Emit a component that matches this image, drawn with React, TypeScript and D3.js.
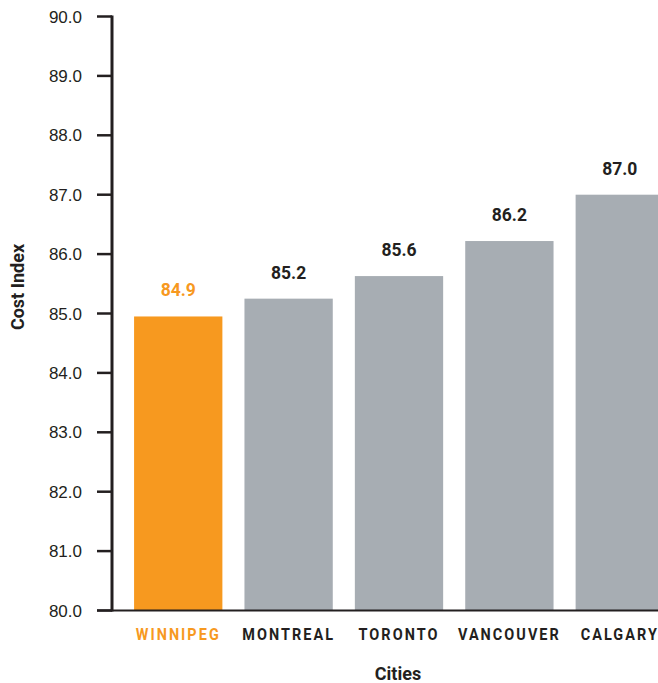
import React from "react";
import * as d3 from "d3";

const cities = ["WINNIPEG", "MONTREAL", "TORONTO", "VANCOUVER", "CALGARY"];
const costIndex = [84.95, 85.25, 85.63, 86.22, 87.0];
const valueLabels = ["84.9", "85.2", "85.6", "86.2", "87.0"];
const yTicks = [80, 81, 82, 83, 84, 85, 86, 87, 88, 89, 90];
const highlight = "WINNIPEG";

const W = 658;
const H = 683;

export default function App() {
  const x = d3
    .scaleBand<string>()
    .domain(cities)
    .range([112, 686])
    .paddingInner(0.2)
    .paddingOuter(0.2);
  const y = d3.scaleLinear().domain([80, 90]).range([610.5, 16.5]);
  const orange = "#F7991F";
  const grey = "#A7ADB3";
  const dark = "#231F20";
  const boldFont = "Roboto, 'Noto Sans', sans-serif";

  return (
    <svg
      width={W}
      height={H}
      style={{ position: "absolute", left: 0, top: 0, display: "block" }}
    >
      <rect width={W} height={H} fill="#fff" />
      {cities.map((c, i) => (
        <rect
          key={c}
          x={x(c)}
          y={y(costIndex[i])}
          width={x.bandwidth()}
          height={y(80) - y(costIndex[i])}
          fill={c === highlight ? orange : grey}
        />
      ))}
      {cities.map((c, i) => (
        <text
          key={"v" + c}
          x={(x(c) as number) + x.bandwidth() / 2}
          y={y(costIndex[i]) - 20}
          textAnchor="middle"
          fontFamily={boldFont}
          fontWeight="bold"
          fontSize={17.5}
          fill={c === highlight ? orange : dark}
        >
          {valueLabels[i]}
        </text>
      ))}
      {/* y axis */}
      <line x1={112} x2={112} y1={15.5} y2={611.5} stroke={dark} strokeWidth={3} />
      {yTicks.map((t) => (
        <g key={t}>
          <line x1={97} x2={112} y1={y(t)} y2={y(t)} stroke={dark} strokeWidth={2.5} />
          <text
            x={82}
            y={y(t)}
            dy="0.36em"
            textAnchor="end"
            fontFamily="'Liberation Sans', Arial, sans-serif"
            fontSize={17}
            fill={dark}
          >
            {t.toFixed(1)}
          </text>
        </g>
      ))}
      {/* x axis */}
      <line x1={97} x2={W} y1={610.5} y2={610.5} stroke={dark} strokeWidth={2} />
      {cities.map((c) => (
        <g
          key={"c" + c}
          transform={`translate(${(x(c) as number) + x.bandwidth() / 2},639.5) scale(0.85,1)`}
        >
          <text
            x={0}
            y={0}
            textAnchor="middle"
            fontFamily={boldFont}
            fontWeight="bold"
            fontSize={17}
            letterSpacing={2.4}
            fill={c === highlight ? orange : dark}
          >
            {c}
          </text>
        </g>
      ))}
      <text
        x={398}
        y={680}
        textAnchor="middle"
        fontFamily={boldFont}
        fontWeight="bold"
        fontSize={18}
        fill={dark}
      >
        Cities
      </text>
      <text
        transform="translate(24,287) rotate(-90)"
        textAnchor="middle"
        fontFamily={boldFont}
        fontWeight="bold"
        fontSize={18}
        fill={dark}
      >
        Cost Index
      </text>
    </svg>
  );
}
